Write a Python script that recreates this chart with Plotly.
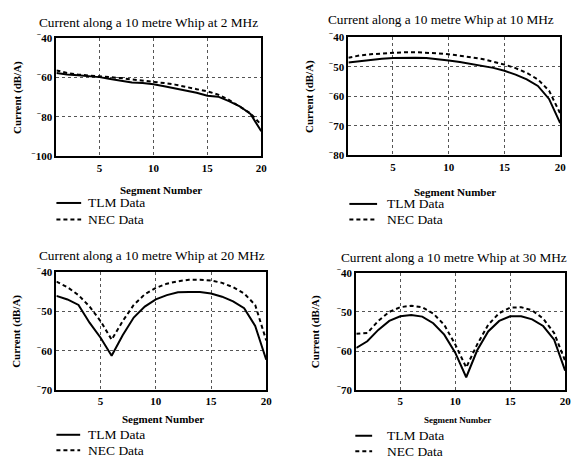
import plotly.graph_objects as go

W, H = 584, 466

segments = list(range(1, 21))

# 2 MHz
tlm_2 = [-57.7, -58.5, -58.9, -59.2, -59.8, -60.7, -61.5, -62.5, -62.8, -63.4,
         -64.4, -65.4, -66.4, -67.7, -69.2, -69.7, -72.0, -74.6, -78.5, -87.2]
nec_2 = [-56.4, -57.7, -58.5, -58.9, -59.2, -59.7, -60.3, -61.0, -61.5, -62.1,
         -62.8, -63.6, -64.6, -65.9, -67.0, -68.7, -71.3, -74.6, -78.2, -84.0]
# 10 MHz
tlm_10 = [-48.6, -48.1, -47.7, -47.3, -47.1, -47.0, -47.0, -47.1, -47.4, -47.9,
          -48.4, -49.0, -49.6, -50.4, -51.4, -52.7, -54.3, -56.5, -60.9, -69.1]
nec_10 = [-47.0, -46.2, -45.8, -45.5, -45.2, -45.1, -45.1, -45.2, -45.5, -45.8,
          -46.2, -46.8, -47.4, -48.3, -49.3, -50.5, -52.1, -54.3, -58.1, -65.8]
# 20 MHz
tlm_20 = [-46.1, -47.0, -48.4, -52.9, -56.7, -61.3, -56.1, -51.6, -48.8, -47.0,
          -45.9, -45.2, -45.1, -45.1, -45.5, -46.3, -47.5, -49.2, -53.7, -62.3]
nec_20 = [-42.5, -43.9, -45.9, -48.8, -52.5, -57.2, -52.5, -48.4, -45.7, -44.1,
          -43.0, -42.4, -42.0, -42.0, -42.2, -42.8, -43.9, -45.5, -48.4, -57.4]
# 30 MHz
tlm_30 = [-59.2, -57.5, -54.6, -52.3, -51.1, -50.8, -51.2, -52.9, -55.8, -60.4,
          -66.7, -59.8, -55.0, -52.3, -51.1, -51.1, -51.9, -53.6, -57.1, -65.0]
nec_30 = [-55.6, -55.4, -52.3, -50.0, -48.8, -48.4, -48.8, -50.4, -53.3, -58.3,
          -64.2, -58.3, -53.3, -50.3, -48.9, -48.8, -49.6, -51.7, -55.4, -62.5]

titles = ["Current along a 10 metre Whip at 2 MHz",
          "Current along a 10 metre Whip at 10 MHz",
          "Current along a 10 metre Whip at 20 MHz",
          "Current along a 10 metre Whip at 30 MHz"]
series_names = ["TLM Data", "NEC Data"]
x_ticks = [5, 10, 15, 20]
y_ticks = [[-100, -80, -60, -40],
           [-80, -70, -60, -50, -40],
           [-70, -60, -50, -40],
           [-70, -60, -50, -40]]
y_ranges = [[-100, -40], [-80, -40], [-70, -40], [-70, -40]]
series = [(tlm_2, nec_2), (tlm_10, nec_10), (tlm_20, nec_20), (tlm_30, nec_30)]

# layout in pixels
boxes = [(57, 264, 31, 153), (352, 566, 30, 152), (57, 269, 272, 394), (360, 571, 273, 394)]
title_pos = [(150, 15), (446, 12), (154, 255), (459, 257)]
xlabel_pos = [(163, 188, 11), (460, 190, 11), (165, 424, 11), (462, 425, 9)]
ylabel_x = [17, 312, 17, 319]
# legend: line x0, x1, text x, first row y, second row y
legend_pos = [(57, 82, 87, 201, 218), (353, 381, 389, 202, 218),
              (57, 81, 87, 440, 456), (359, 376, 389, 441, 457)]

SERIF = "Liberation Serif, Times New Roman, serif"
px = lambda v: v / W
py = lambda v: 1 - v / H

fig = go.Figure()
annotations = []
shapes = []
dashes = ["solid", "4px,3px"]
for i in range(4):
    n = "" if i == 0 else str(i + 1)
    for k, vals in enumerate(series[i]):
        fig.add_trace(go.Scatter(x=segments, y=vals, mode="lines", name=series_names[k],
                                 line=dict(color="black", width=2, dash=dashes[k]),
                                 xaxis="x" + n, yaxis="y" + n, showlegend=False))
    l, r, t, b = boxes[i]
    axis_common = dict(showline=True, mirror=True, linecolor="black", linewidth=2,
                       showgrid=True, gridcolor="#555", griddash="dot", gridwidth=1,
                       zeroline=False, ticks="",
                       tickfont=dict(family=SERIF, size=11, color="black", weight="bold"))
    fig.update_layout(**{
        "xaxis" + n: dict(domain=[px(l), px(r)], range=[1, 20], tickvals=x_ticks,
                          anchor="y" + n, **axis_common),
        "yaxis" + n: dict(domain=[py(b), py(t)], range=y_ranges[i], tickvals=y_ticks[i],
                          ticktext=["<sup>\u2212</sup>" + str(abs(v)) for v in y_ticks[i]],
                          anchor="x" + n, **axis_common),
    })
    tx, ty = title_pos[i]
    annotations.append(dict(text=titles[i], x=px(tx), y=py(ty), xref="paper", yref="paper",
                            xanchor="center", yanchor="middle", showarrow=False,
                            font=dict(family=SERIF, size=13.3, color="black")))
    sx, sy, fs = xlabel_pos[i]
    annotations.append(dict(text="Segment Number", x=px(sx), y=py(sy), xref="paper", yref="paper",
                            xanchor="center", yanchor="middle", showarrow=False,
                            font=dict(family=SERIF, size=fs, color="black", weight="bold")))
    annotations.append(dict(text="Current (dB/A)", x=px(ylabel_x[i]), y=py((t + b) / 2),
                            xref="paper", yref="paper", xanchor="center", yanchor="middle",
                            textangle=-90, showarrow=False,
                            font=dict(family=SERIF, size=11, color="black", weight="bold")))
    lx0, lx1, ltx, ly1, ly2 = legend_pos[i]
    for k, ly in enumerate([ly1, ly2]):
        shapes.append(dict(type="line", xref="paper", yref="paper",
                           x0=px(lx0), x1=px(lx1), y0=py(ly), y1=py(ly),
                           line=dict(color="black", width=2, dash=dashes[k])))
        annotations.append(dict(text=series_names[k], x=px(ltx), y=py(ly), xref="paper", yref="paper",
                                xanchor="left", yanchor="middle", showarrow=False,
                                font=dict(family=SERIF, size=13.5, color="black")))

fig.update_layout(width=W, height=H, margin=dict(l=0, r=0, t=0, b=0),
                  paper_bgcolor="white", plot_bgcolor="white",
                  annotations=annotations, shapes=shapes, showlegend=False)

fig.write_html("out.html", config={"displayModeBar": False},
               post_script="document.body.style.margin='0';document.body.style.overflow='hidden';")
